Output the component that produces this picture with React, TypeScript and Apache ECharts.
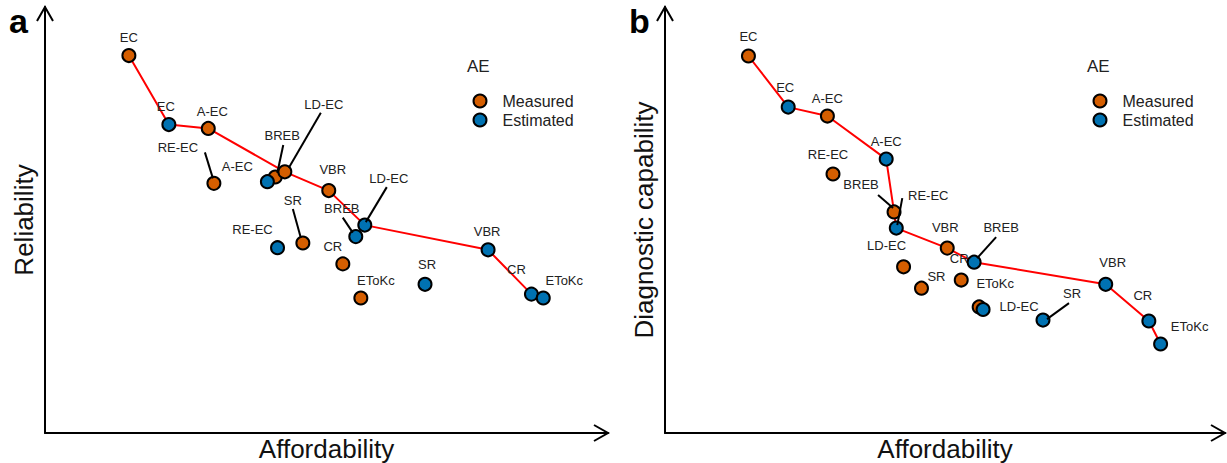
import React, { useEffect, useRef } from "react";
import * as echarts from "echarts";

// ---------- data ----------
const NAMES = ["EC", "A-EC", "RE-EC", "BREB", "LD-EC", "VBR", "SR", "CR", "EToKc"];

// Affordability (shared by both panels)
const AFF_MEASURED = [14.9, 29.0, 30.0, 40.9, 42.6, 50.4, 45.8, 52.9, 56.1];
const AFF_ESTIMATED = [22.0, 39.5, 41.3, 55.2, 56.8, 78.7, 67.5, 86.4, 88.5];

// Panel a: Reliability
const REL_MEASURED = [88.6, 71.5, 58.6, 60.1, 61.3, 56.9, 44.6, 39.7, 31.7];
const REL_ESTIMATED = [72.4, 59.0, 43.5, 46.1, 48.8, 43.0, 34.9, 32.6, 31.7];

// Panel b: Diagnostic capability
const DIAG_MEASURED = [88.5, 74.4, 60.8, 51.9, 39.0, 43.4, 34.0, 35.9, 29.6];
const DIAG_ESTIMATED = [76.5, 64.3, 48.1, 40.1, 29.0, 34.9, 26.5, 26.3, 20.9];

// Pareto frontiers (M = measured, E = estimated)
const FRONTIER_A: [string, string][] = [
  ["M", "EC"], ["E", "EC"], ["M", "A-EC"], ["M", "LD-EC"], ["M", "VBR"],
  ["E", "LD-EC"], ["E", "VBR"], ["E", "CR"], ["E", "EToKc"],
];
const FRONTIER_B: [string, string][] = [
  ["M", "EC"], ["E", "EC"], ["M", "A-EC"], ["E", "A-EC"], ["M", "BREB"],
  ["E", "RE-EC"], ["M", "VBR"], ["E", "BREB"], ["E", "VBR"], ["E", "CR"], ["E", "EToKc"],
];

const LEGEND_NAMES = ["Measured", "Estimated"];
const X_TITLE = "Affordability";
const Y_TITLES = ["Reliability", "Diagnostic capability"];
const PANEL_TAGS = ["a", "b"];

// ---------- label placement (pixel offsets from point centre) ----------
const LBL_A_M = [[0, -18], [4, -17], [-36, -36], [7, -41], [39, -67], [4, -21], [-10, -43], [-10, -17], [15, -17]];
const LBL_A_E = [[-3, -18], [-30, -15], [-25, -18], [-14, -28], [24, -47], [-1, -18], [2, -20], [-15, -25], [21, -17]];
const LBL_B_M = [[0, -19], [0, -18], [-5, -19], [-33, -27], [-17, -21], [-2, -21], [15, -12], [-2, -22], [16, -23]];
const LBL_B_E = [[-3, -20], [0, -18], [32, -33], [27, -35], [36, -3], [7, -22], [29, -27], [-6, -25], [29, -17]];

// leader lines (pixel offsets from point centre), null = none
const LEAD_A_M = [null, null, [-9, -31, -1, -5], [8, -32, 2, -4], [36, -59, 4, -4], null, [-10, -34, -2, -5], null, null];
const LEAD_A_E = [null, null, null, [-13, -19, -3, -4], [22, -38, 1, -3], null, null, null, null];
const LEAD_B_M = [null, null, null, [-16, -17, -1, -4], null, null, null, null, null];
const LEAD_B_E = [null, null, [6, -30, 1, -3], [22, -25, 3, -4], null, null, [26, -17, 4, -1], null, null];

// ---------- layout ----------
const W = 1227;
const H = 463;
const GRID_TOP = 7;
const GRID_BOTTOM = 433;
const PANELS = [
  { left: 45, width: 563 },
  { left: 665, width: 560 },
];
const ORANGE = "#D55E00";
const BLUE = "#0072B2";
const FONT = "'Liberation Sans', Arial, Helvetica, sans-serif";

function chevrons(left: number, width: number) {
  const right = left + width;
  const st = { stroke: "#000", lineWidth: 2, fill: "none" };
  return [
    { type: "polyline", shape: { points: [[left - 8, GRID_TOP + 14], [left, GRID_TOP], [left + 8, GRID_TOP + 14]] }, style: st, z: 10 },
    { type: "polyline", shape: { points: [[right - 14, GRID_BOTTOM - 8], [right, GRID_BOTTOM], [right - 14, GRID_BOTTOM + 8]] }, style: st, z: 10 },
  ];
}

export default function App() {
  const ref = useRef<HTMLDivElement>(null);

  useEffect(() => {
    if (!ref.current) return;
    const chart = echarts.init(ref.current, null, { renderer: "svg" });

    const panelData = [
      { ym: REL_MEASURED, ye: REL_ESTIMATED, lm: LBL_A_M, le: LBL_A_E, dm: LEAD_A_M, de: LEAD_A_E, fr: FRONTIER_A },
      { ym: DIAG_MEASURED, ye: DIAG_ESTIMATED, lm: LBL_B_M, le: LBL_B_E, dm: LEAD_B_M, de: LEAD_B_E, fr: FRONTIER_B },
    ];

    const series: any[] = [];
    panelData.forEach((p, i) => {
      const lookup = (kind: string, name: string) => {
        const k = NAMES.indexOf(name);
        return kind === "M" ? [AFF_MEASURED[k], p.ym[k]] : [AFF_ESTIMATED[k], p.ye[k]];
      };
      series.push({
        type: "line",
        name: "frontier" + i,
        xAxisIndex: i,
        yAxisIndex: i,
        data: p.fr.map(([kind, n]) => lookup(kind, n)),
        showSymbol: false,
        symbol: "none",
        lineStyle: { color: "#FF0000", width: 2 },
        z: 1,
        silent: true,
      });
      const mk = (name: string, xs: number[], ys: number[], lbl: number[][], color: string, z: number) => ({
        type: "scatter",
        name,
        xAxisIndex: i,
        yAxisIndex: i,
        symbol: "circle",
        symbolSize: 13,
        itemStyle: { color, borderColor: "#000", borderWidth: 2, opacity: 1 },
        label: {
          show: true,
          position: "inside",
          formatter: "{b}",
          color: "#222",
          fontSize: 13,
          fontFamily: FONT,
        },
        data: NAMES.map((n, k) => ({ name: n, value: [xs[k], ys[k]], label: { offset: lbl[k] } })),
        z,
      });
      series.push(mk("Measured", AFF_MEASURED, p.ym, p.lm, ORANGE, 2));
      series.push(mk("Estimated", AFF_ESTIMATED, p.ye, p.le, BLUE, 3));

      const leaders: number[][] = [];
      NAMES.forEach((_, k) => {
        const a = p.dm[k];
        if (a) leaders.push([AFF_MEASURED[k], p.ym[k], ...a]);
        const b = p.de[k];
        if (b) leaders.push([AFF_ESTIMATED[k], p.ye[k], ...b]);
      });
      series.push({
        type: "custom",
        name: "leaders" + i,
        xAxisIndex: i,
        yAxisIndex: i,
        encode: { x: 0, y: 1 },
        data: leaders,
        z: 4,
        silent: true,
        renderItem: (_params: any, api: any) => {
          const c = api.coord([api.value(0), api.value(1)]);
          return {
            type: "line",
            shape: {
              x1: c[0] + api.value(2),
              y1: c[1] + api.value(3),
              x2: c[0] + api.value(4),
              y2: c[1] + api.value(5),
            },
            style: { stroke: "#000", lineWidth: 2 },
          };
        },
      });
    });

    const option: any = {
      animation: false,
      backgroundColor: "#fff",
      textStyle: { fontFamily: FONT },
      title: [
        ...PANELS.map((pn, i) => ({
          text: PANEL_TAGS[i],
          left: pn.left - 36,
          top: 4,
          padding: 0,
          textStyle: { fontSize: 34, fontWeight: "bold", color: "#000", fontFamily: FONT },
        })),
        ...PANELS.map((pn) => ({
          text: "AE",
          left: pn.left + 422,
          top: 58,
          padding: 0,
          textStyle: { fontSize: 17, fontWeight: "normal", color: "#222", fontFamily: FONT },
        })),
      ],
      legend: PANELS.map((pn) => ({
        data: LEGEND_NAMES,
        orient: "vertical",
        left: pn.left + 427.5,
        top: 93,
        padding: 0,
        itemWidth: 13,
        itemHeight: 13,
        itemGap: 3,
        icon: "circle",
        selectedMode: false,
        itemStyle: { borderColor: "#000", borderWidth: 2 },
        textStyle: { fontSize: 16, color: "#222", fontFamily: FONT, padding: [0, 0, 0, 11] },
      })),
      grid: PANELS.map((pn) => ({
        left: pn.left,
        top: GRID_TOP,
        width: pn.width,
        height: GRID_BOTTOM - GRID_TOP,
        containLabel: false,
        outerBoundsMode: "none",
      })),
      xAxis: PANELS.map((_, i) => ({
        type: "value",
        gridIndex: i,
        min: 0,
        max: 100,
        name: X_TITLE,
        nameLocation: "middle",
        nameGap: 3,
        nameTextStyle: { fontSize: 26, color: "#111", fontFamily: FONT },
        axisLine: { show: true, onZero: false, lineStyle: { color: "#000", width: 2 } },
        axisTick: { show: false },
        axisLabel: { show: false },
        splitLine: { show: false },
      })),
      yAxis: PANELS.map((_, i) => ({
        type: "value",
        gridIndex: i,
        min: 0,
        max: 100,
        name: Y_TITLES[i],
        nameLocation: "middle",
        nameGap: 8,
        nameTextStyle: { fontSize: 26, color: "#111", fontFamily: FONT },
        axisLine: { show: true, onZero: false, lineStyle: { color: "#000", width: 2 } },
        axisTick: { show: false },
        axisLabel: { show: false },
        splitLine: { show: false },
      })),
      graphic: PANELS.flatMap((pn) => chevrons(pn.left, pn.width)),
      series,
    };

    chart.setOption(option);
    return () => chart.dispose();
  }, []);

  return (
    <div
      ref={ref}
      style={{ position: "absolute", left: 0, top: 0, width: W, height: H, background: "#fff" }}
    />
  );
}
